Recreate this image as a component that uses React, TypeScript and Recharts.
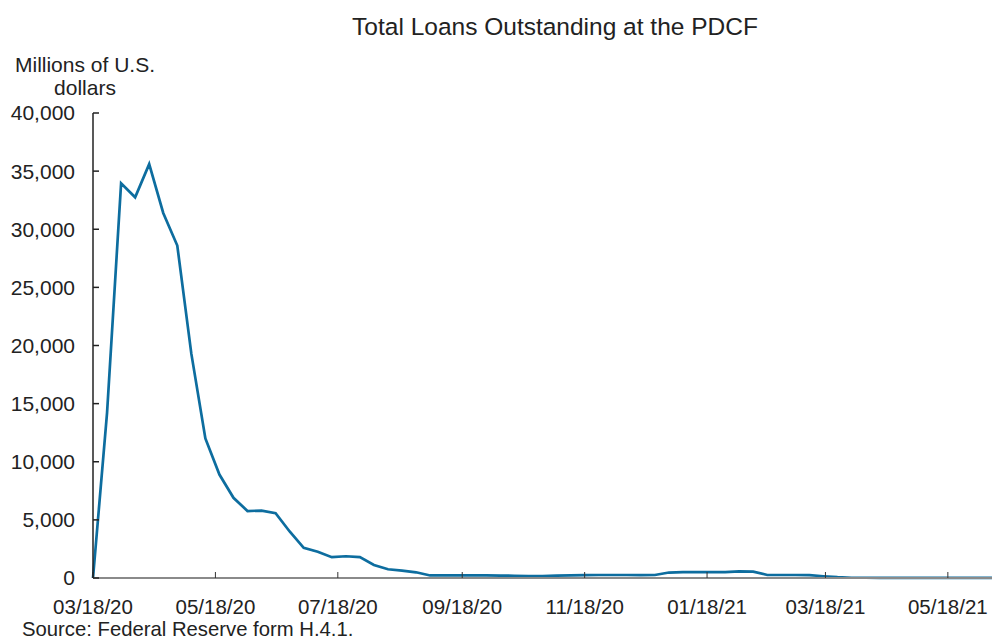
import { LineChart, Line, XAxis, YAxis } from 'recharts'

// weekly Wednesday dates (H.4.1 release weeks)
const dates = [
  '2020-03-18', '2020-03-25', '2020-04-01', '2020-04-08', '2020-04-15', '2020-04-22', '2020-04-29',
  '2020-05-06', '2020-05-13', '2020-05-20', '2020-05-27', '2020-06-03', '2020-06-10', '2020-06-17',
  '2020-06-24', '2020-07-01', '2020-07-08', '2020-07-15', '2020-07-22', '2020-07-29', '2020-08-05',
  '2020-08-12', '2020-08-19', '2020-08-26', '2020-09-02', '2020-09-09', '2020-09-16', '2020-09-23',
  '2020-09-30', '2020-10-07', '2020-10-14', '2020-10-21', '2020-10-28', '2020-11-04', '2020-11-11',
  '2020-11-18', '2020-11-25', '2020-12-02', '2020-12-09', '2020-12-16', '2020-12-23', '2020-12-30',
  '2021-01-06', '2021-01-13', '2021-01-20', '2021-01-27', '2021-02-03', '2021-02-10', '2021-02-17',
  '2021-02-24', '2021-03-03', '2021-03-10', '2021-03-17', '2021-03-24', '2021-03-31', '2021-04-07',
  '2021-04-14', '2021-04-21', '2021-04-28', '2021-05-05', '2021-05-12', '2021-05-19', '2021-05-26',
  '2021-06-02', '2021-06-09',
]

// millions of U.S. dollars
const loans = [
  0, 14200, 33950, 32750, 35600, 31400, 28600,
  19300, 12000, 8900, 6900, 5760, 5800, 5580,
  4000, 2600, 2260, 1790, 1870, 1790, 1120,
  750, 640, 490, 220, 230, 230, 220,
  220, 210, 190, 160, 170, 200, 230,
  250, 260, 260, 260, 250, 260, 470,
  500, 510, 500, 510, 570, 550, 260,
  260, 260, 240, 150, 70, 20, 20,
  15, 10, 10, 10, 10, 10, 10,
  10, 10,
]

const xTickLabels = ['03/18/20', '05/18/20', '07/18/20', '09/18/20', '11/18/20', '01/18/21', '03/18/21', '05/18/21']
const yTicks = [0, 5000, 10000, 15000, 20000, 25000, 30000, 35000, 40000]

const toTime = (iso: string) => Date.parse(iso + 'T00:00:00Z')
const fromLabel = (s: string) => {
  const [m, d, y] = s.split('/')
  return Date.UTC(2000 + Number(y), Number(m) - 1, Number(d))
}

const data = dates.map((d, i) => ({ t: toTime(d), value: loans[i] }))
const xTicks = xTickLabels.map(fromLabel)

const fmtDate = (t: number) => {
  const d = new Date(t)
  const mm = String(d.getUTCMonth() + 1).padStart(2, '0')
  const dd = String(d.getUTCDate()).padStart(2, '0')
  const yy = String(d.getUTCFullYear() % 100).padStart(2, '0')
  return `${mm}/${dd}/${yy}`
}

const font = '"Liberation Sans", Arial, sans-serif'
const textColor = '#222'

export default function App() {
  return (
    <div style={{ position: 'absolute', left: 0, top: 0, width: 992, height: 639, fontFamily: font, color: textColor }}>
      <div style={{ position: 'absolute', left: 0, width: 1110, top: 13, textAlign: 'center', fontSize: 24.5, lineHeight: '28px' }}>
        Total Loans Outstanding at the PDCF
      </div>
      <div style={{ position: 'absolute', left: 0, width: 170, top: 53, textAlign: 'center', fontSize: 21, lineHeight: '23px' }}>
        Millions of U.S.
        <br />
        dollars
      </div>
      <div style={{ position: 'absolute', left: 22, top: 621, fontSize: 20.3, lineHeight: '16px', whiteSpace: 'nowrap' }}>
        Source: Federal Reserve form H.4.1.
      </div>
      <LineChart width={992} height={639} data={data} margin={{ top: 113, right: 0, bottom: 0, left: 0 }}>
        <XAxis
          dataKey="t"
          type="number"
          scale="time"
          domain={[data[0].t, data[data.length - 1].t]}
          ticks={xTicks}
          tickFormatter={fmtDate}
          interval={0}
          height={61}
          tickSize={-6}
          tickMargin={27}
          axisLine={{ stroke: '#8a8a8a', strokeWidth: 2 }}
          tickLine={{ stroke: '#333' }}
          tick={{ fill: textColor, fontSize: 20.5, fontFamily: font }}
        />
        <YAxis
          domain={[0, 40000]}
          ticks={yTicks}
          tickFormatter={(v: number) => v.toLocaleString('en-US')}
          width={93}
          tickSize={-6}
          tickMargin={24}
          axisLine={{ stroke: '#222', strokeWidth: 1.5 }}
          tickLine={{ stroke: '#222', strokeWidth: 1.5 }}
          tick={{ fill: textColor, fontSize: 21, fontFamily: font }}
        />
        <Line
          type="linear"
          dataKey="value"
          stroke="#0d6d9f"
          strokeWidth={2.7}
          dot={false}
          isAnimationActive={false}
        />
      </LineChart>
    </div>
  )
}
